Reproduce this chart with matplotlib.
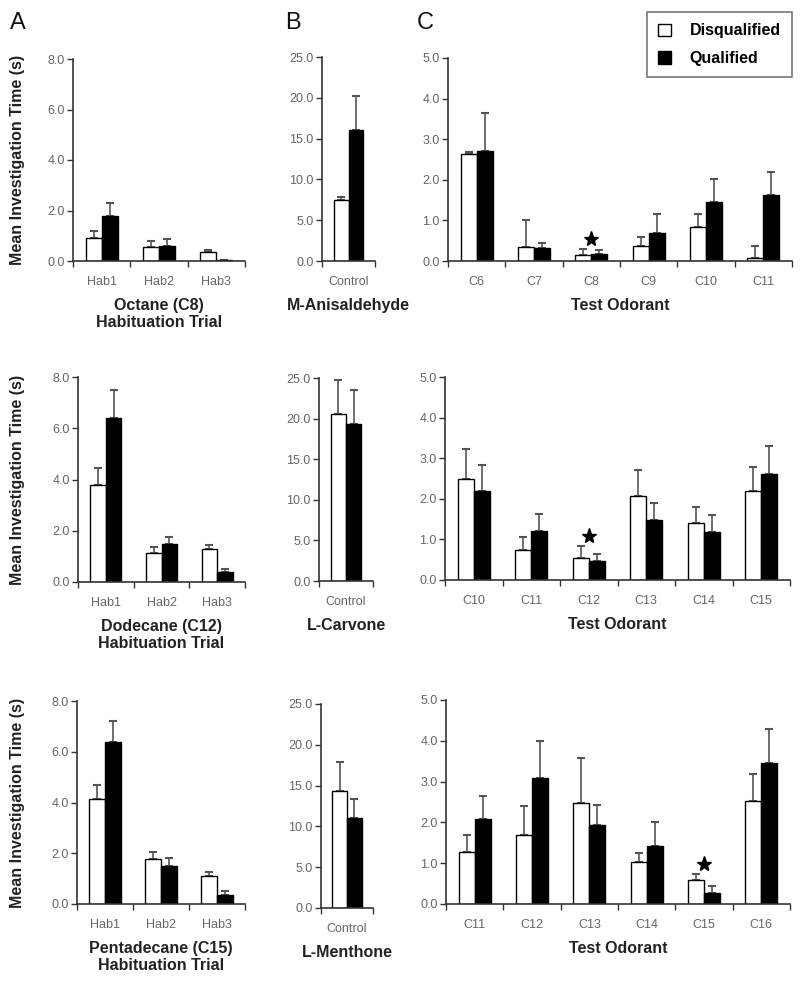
import matplotlib
matplotlib.use("Agg")
import matplotlib.pyplot as plt
import numpy as np
from matplotlib.patches import Patch

plt.rcParams['font.family'] = ['Liberation Sans', 'DejaVu Sans']

W, H = 800, 983

# ---- data (mean, SEM) ----
hab_cats = ["Hab1", "Hab2", "Hab3"]
ctrl_cats = ["Control"]
test_cats_1 = ["C6", "C7", "C8", "C9", "C10", "C11"]
test_cats_2 = ["C10", "C11", "C12", "C13", "C14", "C15"]
test_cats_3 = ["C11", "C12", "C13", "C14", "C15", "C16"]

# row 1: octane / m-anisaldehyde
oct_dis = [0.9, 0.55, 0.35]
oct_dis_sem = [0.3, 0.25, 0.1]
oct_qual = [1.8, 0.6, 0.03]
oct_qual_sem = [0.5, 0.28, 0.02]
anis_dis = [7.5]
anis_dis_sem = [0.3]
anis_qual = [16.0]
anis_qual_sem = [4.2]
test1_dis = [2.63, 0.35, 0.15, 0.38, 0.83, 0.07]
test1_dis_sem = [0.05, 0.65, 0.15, 0.22, 0.32, 0.30]
test1_qual = [2.72, 0.32, 0.17, 0.70, 1.45, 1.63]
test1_qual_sem = [0.93, 0.13, 0.11, 0.45, 0.58, 0.55]
test1_sig = ["C8"]

# row 2: dodecane / l-carvone
dod_dis = [3.8, 1.15, 1.3]
dod_dis_sem = [0.65, 0.23, 0.15]
dod_qual = [6.4, 1.5, 0.38]
dod_qual_sem = [1.1, 0.25, 0.12]
carv_dis = [20.6]
carv_dis_sem = [4.2]
carv_qual = [19.3]
carv_qual_sem = [4.2]
test2_dis = [2.48, 0.75, 0.55, 2.07, 1.4, 2.2]
test2_dis_sem = [0.75, 0.3, 0.28, 0.63, 0.4, 0.58]
test2_qual = [2.18, 1.2, 0.47, 1.48, 1.17, 2.6]
test2_qual_sem = [0.65, 0.43, 0.16, 0.42, 0.43, 0.7]
test2_sig = ["C12"]

# row 3: pentadecane / l-menthone
pent_dis = [4.15, 1.78, 1.12]
pent_dis_sem = [0.55, 0.27, 0.16]
pent_qual = [6.4, 1.5, 0.37]
pent_qual_sem = [0.8, 0.32, 0.13]
menth_dis = [14.3]
menth_dis_sem = [3.6]
menth_qual = [11.0]
menth_qual_sem = [2.3]
test3_dis = [1.28, 1.7, 2.48, 1.03, 0.6, 2.52]
test3_dis_sem = [0.42, 0.7, 1.1, 0.22, 0.13, 0.66]
test3_qual = [2.08, 3.1, 1.93, 1.42, 0.28, 3.45]
test3_qual_sem = [0.57, 0.9, 0.5, 0.6, 0.15, 0.85]
test3_sig = ["C15"]

fig = plt.figure(figsize=(W / 100, H / 100), dpi=100)


def px_axes(l, t, r, b):
    return fig.add_axes([l / W, 1 - b / H, (r - l) / W, (b - t) / H])


def draw(ax, cats, dis, dis_sem, qual, qual_sem, ymax, ystep, label, sig=()):
    x = np.arange(len(cats)) + 0.5
    w = 0.28
    zero = np.zeros(len(cats))
    ax.errorbar(x - w / 2, dis, yerr=[zero, dis_sem], fmt='none', ecolor='#555555',
                elinewidth=1.2, capsize=3, capthick=1.5, zorder=1)
    ax.errorbar(x + w / 2, qual, yerr=[zero, qual_sem], fmt='none', ecolor='#555555',
                elinewidth=1.2, capsize=3, capthick=1.5, zorder=1)
    ax.bar(x - w / 2, dis, w, color='white', edgecolor='black', lw=1, zorder=2)
    ax.bar(x + w / 2, qual, w, color='black', edgecolor='black', lw=1, zorder=2)
    for c in sig:
        i = cats.index(c)
        top = max(dis[i] + dis_sem[i], qual[i] + qual_sem[i])
        ax.plot(x[i], top + ymax * 0.05, marker='*', ms=11, color='black', zorder=3)
    ax.set_xlim(0, len(cats))
    ax.set_ylim(0, ymax)
    ax.set_yticks(np.arange(0, ymax + 0.001, ystep))
    ax.set_yticklabels([f"{v:.1f}" for v in np.arange(0, ymax + 0.001, ystep)])
    ax.set_xticks(np.arange(0, len(cats) + 1))
    ax.set_xticklabels([])
    ax.set_xticks(x, minor=True)
    ax.set_xticklabels(cats, minor=True)
    ax.tick_params(axis='x', which='major', length=4, width=1, color='#333333', direction='out')
    ax.tick_params(axis='x', which='minor', length=0, pad=11, labelsize=9, labelcolor='#666666')
    ax.tick_params(axis='y', length=4, width=1, color='#333333', labelsize=9,
                   labelcolor='#666666', pad=2)
    for s in ['top', 'right']:
        ax.spines[s].set_visible(False)
    for s in ['left', 'bottom']:
        ax.spines[s].set_color('#333333')
        ax.spines[s].set_linewidth(1.2)
    ax.set_xlabel(label, fontsize=11.5, fontweight='bold', color='#222222', labelpad=7,
                  linespacing=1.2)


rows = [
    dict(box=[(73, 59, 245, 261), (322, 57, 375, 261), (448, 58, 792, 261)],
         a=(oct_dis, oct_dis_sem, oct_qual, oct_qual_sem, "Octane (C8)\nHabituation Trial"),
         b=(anis_dis, anis_dis_sem, anis_qual, anis_qual_sem, "M-Anisaldehyde"),
         c=(test_cats_1, test1_dis, test1_dis_sem, test1_qual, test1_qual_sem, test1_sig)),
    dict(box=[(78, 377, 245, 582), (319, 378, 373, 581), (445, 377, 790, 580)],
         a=(dod_dis, dod_dis_sem, dod_qual, dod_qual_sem, "Dodecane (C12)\nHabituation Trial"),
         b=(carv_dis, carv_dis_sem, carv_qual, carv_qual_sem, "L-Carvone"),
         c=(test_cats_2, test2_dis, test2_dis_sem, test2_qual, test2_qual_sem, test2_sig)),
    dict(box=[(77, 701, 245, 904), (321, 704, 373, 908), (446, 700, 790, 904)],
         a=(pent_dis, pent_dis_sem, pent_qual, pent_qual_sem, "Pentadecane (C15)\nHabituation Trial"),
         b=(menth_dis, menth_dis_sem, menth_qual, menth_qual_sem, "L-Menthone"),
         c=(test_cats_3, test3_dis, test3_dis_sem, test3_qual, test3_qual_sem, test3_sig)),
]

for r in rows:
    axa = px_axes(*r['box'][0])
    draw(axa, hab_cats, *r['a'][:4], 8.0, 2.0, r['a'][4])
    axb = px_axes(*r['box'][1])
    draw(axb, ctrl_cats, *r['b'][:4], 25.0, 5.0, r['b'][4])
    axc = px_axes(*r['box'][2])
    cats, d, ds, q, qs, sig = r['c']
    draw(axc, cats, d, ds, q, qs, 5.0, 1.0, "Test Odorant", sig)
    l, t, rr, b = r['box'][0]
    fig.text(18 / W, 1 - (t + b) / 2 / H, "Mean Investigation Time (s)", rotation=90,
             ha='center', va='center', fontsize=11.5, fontweight='bold', color='#222222')

# panel letters
for letter, xp in [("A", 10), ("B", 285), ("C", 417)]:
    fig.text(xp / W, 1 - 23 / H, letter, ha='left', va='center', fontsize=17, color='#111111')

handles = [Patch(facecolor='white', edgecolor='black', lw=1, label='Disqualified'),
           Patch(facecolor='black', edgecolor='black', lw=1, label='Qualified')]
leg = fig.legend(handles=handles, loc='upper right', bbox_to_anchor=(792 / W, 1 - 12 / H),
                 frameon=True, fancybox=False, edgecolor='#555555', handlelength=0.8,
                 handleheight=0.8, handletextpad=1.2, labelspacing=0.8, borderpad=0.7,
                 borderaxespad=0, prop=dict(size=11.5, weight='bold'))
leg.get_frame().set_linewidth(1.2)

fig.savefig("out.png", dpi=100)
